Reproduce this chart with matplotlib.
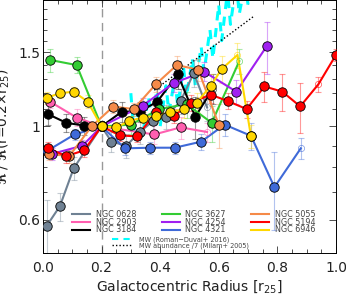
import matplotlib
matplotlib.use('Agg')
import matplotlib.pyplot as plt
from matplotlib.ticker import MultipleLocator, FormatStrFormatter

# galaxy profiles: radius [r25], normalised ratio, error, index of open (outer) point
names = ['NGC 0628', 'NGC 2903', 'NGC 3184', 'NGC 3627', 'NGC 4254',
         'NGC 4321', 'NGC 5055', 'NGC 5194', 'NGC 6946']
colors = ['#6F8193', '#FF5FB0', '#000000', '#33CC33', '#A020F0',
          '#3F6AD8', '#F58A48', '#FF0000', '#FFD700']

r0628 = [0.013, 0.058, 0.105, 0.2, 0.234, 0.285, 0.33, 0.376, 0.42, 0.47, 0.515, 0.56]
v0628 = [0.58, 0.646, 0.795, 1.0, 0.92, 0.90, 0.97, 1.03, 1.055, 1.15, 1.34, 1.11]
e0628 = [0.09, 0.05, 0.05, 0.0, 0.05, 0.06, 0.06, 0.06, 0.07, 0.08, 0.10, 0.08]

r2903 = [0.024, 0.115, 0.2, 0.38, 0.47, 0.56]
v2903 = [1.146, 1.05, 1.0, 0.957, 0.995, 0.97]
e2903 = [0.04, 0.05, 0.0, 0.05, 0.06, 0.05]

r3184 = [0.017, 0.08, 0.14, 0.2, 0.27, 0.33, 0.39, 0.46, 0.52, 0.58]
v3184 = [1.07, 1.02, 1.005, 1.0, 1.085, 1.085, 1.145, 1.33, 1.055, 1.23]
e3184 = [0.06, 0.05, 0.05, 0.0, 0.06, 0.06, 0.08, 0.1, 0.12, 0.1]

r3627 = [0.024, 0.115, 0.2, 0.30, 0.397, 0.49, 0.576, 0.67]
v3627 = [1.44, 1.40, 1.0, 1.01, 1.10, 1.13, 1.02, 1.43]
e3627 = [0.09, 0.06, 0.0, 0.05, 0.06, 0.08, 0.1, 0.1]

r4254 = [0.03, 0.135, 0.2, 0.34, 0.447, 0.55, 0.66, 0.763]
v4254 = [0.86, 0.90, 1.0, 1.12, 1.27, 1.35, 1.21, 1.55]
e4254 = [0.03, 0.03, 0.0, 0.05, 0.06, 0.07, 0.08, 0.22]

r4321 = [0.015, 0.108, 0.2, 0.28, 0.367, 0.45, 0.54, 0.62, 0.71, 0.79, 0.88]
v4321 = [0.875, 0.957, 1.0, 0.887, 0.89, 0.89, 0.92, 1.01, 0.95, 0.717, 0.887]
e4321 = [0.03, 0.03, 0.0, 0.03, 0.03, 0.03, 0.04, 0.06, 0.07, 0.15, 0.05]

r5055 = [0.02, 0.09, 0.166, 0.24, 0.31, 0.385, 0.457, 0.53, 0.60]
v5055 = [0.86, 0.85, 1.0, 1.115, 1.10, 1.26, 1.40, 1.365, 1.01]
e5055 = [0.03, 0.03, 0.0, 0.04, 0.04, 0.05, 0.07, 0.08, 0.12]

r5194 = [0.017, 0.08, 0.14, 0.2, 0.264, 0.32, 0.387, 0.447, 0.505, 0.573,
         0.63, 0.695, 0.756, 0.817, 0.878, 0.94, 1.0]
v5194 = [0.887, 0.85, 0.877, 1.0, 0.952, 0.947, 1.08, 1.06, 1.14, 1.19,
         1.15, 1.10, 1.245, 1.21, 1.116, 1.26, 1.48]
e5194 = [0.03, 0.03, 0.03, 0.0, 0.03, 0.03, 0.04, 0.04, 0.05, 0.05,
         0.05, 0.05, 0.1, 0.12, 0.15, 0.05, 0.05]

r6946 = [0.013, 0.058, 0.105, 0.153, 0.2, 0.25, 0.295, 0.34, 0.386, 0.434,
         0.48, 0.525, 0.573, 0.61, 0.664, 0.71]
v6946 = [1.17, 1.20, 1.21, 1.145, 1.0, 0.995, 1.03, 1.05, 1.06, 1.08,
         1.10, 1.14, 1.25, 1.37, 1.48, 0.947]
e6946 = [0.04, 0.03, 0.03, 0.04, 0.0, 0.03, 0.03, 0.03, 0.04, 0.04,
         0.05, 0.06, 0.08, 0.1, 0.1, 0.06]

radii = [r0628, r2903, r3184, r3627, r4254, r4321, r5055, r5194, r6946]
vals = [v0628, v2903, v3184, v3627, v4254, v4321, v5055, v5194, v6946]
errs = [e0628, e2903, e3184, e3627, e4254, e4321, e5055, e5194, e6946]
open_idx = [11, 5, 9, 7, None, 10, None, 15, 14]

# Milky Way comparisons
mw_rd_r = [0.30, 0.31, 0.33, 0.34, 0.36, 0.37, 0.39, 0.40, 0.42, 0.43, 0.45, 0.46,
           0.48, 0.49, 0.51, 0.52, 0.54, 0.55, 0.57, 0.58, 0.60, 0.61, 0.63, 0.64,
           0.66, 0.67, 0.69, 0.70]
mw_rd_v = [1.20, 0.98, 1.12, 0.95, 1.18, 1.05, 1.22, 1.00, 1.25, 1.08, 1.30, 1.12,
           1.38, 1.18, 1.45, 1.25, 1.55, 1.35, 1.70, 1.45, 1.95, 1.60, 2.10, 1.75,
           2.20, 1.85, 2.20, 1.95]
mw_ab_r = [0.38, 0.72]
mw_ab_v = [1.22, 1.83]

yticks = [0.6, 1.0, 1.5]
yticklabels = ['0.6', '1', '1.5']
yminor = [0.5, 0.7, 0.8, 0.9, 1.1, 1.2, 1.3, 1.4, 1.6, 1.7, 1.8, 1.9]

fig = plt.figure(figsize=(3.46, 3.0), dpi=100)
ax = fig.add_axes([0.124, 0.157, 0.847, 0.843])

ax.axvline(0.2, color='#999999', ls=(0, (6, 4)), lw=1.0, zorder=1)

ax.plot(mw_rd_r, mw_rd_v, color='cyan', ls=(0, (3, 2.5)), lw=2.2, zorder=2)
ax.plot(mw_ab_r, mw_ab_v, color='black', ls=(0, (1, 1.5)), lw=1.0, zorder=2)

for i in range(len(names)):
    ax.errorbar(radii[i], vals[i], yerr=errs[i], fmt='none', ecolor=colors[i],
                alpha=0.4, elinewidth=0.8, capsize=2, capthick=0.8, zorder=3)

lines = []
for i in range(len(names)):
    r, v, c = radii[i], vals[i], colors[i]
    ln, = ax.plot(r, v, color=c, lw=1.5, zorder=4 + i * 0.1, label=names[i])
    lines.append(ln)
    k = open_idx[i]
    closed = [j for j in range(len(r)) if j != k]
    ax.plot([r[j] for j in closed], [v[j] for j in closed], 'o', ms=6.8,
            mfc=c, mec='black', mew=0.6, zorder=5 + i * 0.1)
    if k is not None:
        ax.plot(r[k], v[k], 'o', ms=4.5, mfc='none', mec=c, mew=0.5,
                alpha=0.7, zorder=5)

ax.set_xlim(0, 1.0)
ax.set_yscale('log')
ax.set_ylim(0.5, 2.0)
ax.set_yticks(yticks, yticklabels)
ax.set_yticks(yminor, [], minor=True)
ax.xaxis.set_major_locator(MultipleLocator(0.2))
ax.xaxis.set_minor_locator(MultipleLocator(0.05))
ax.xaxis.set_major_formatter(FormatStrFormatter('%.1f'))
ax.tick_params(which='both', direction='in', top=True, right=True, labelsize=10,
               width=0.6, colors='#333333', labelcolor='#222222')
ax.tick_params(which='major', length=5)
ax.tick_params(which='minor', length=3)
ax.tick_params(axis='y', pad=2)
ax.tick_params(axis='x', pad=6)
for s in ax.spines.values():
    s.set_linewidth(0.7)

ax.set_xlabel(r'Galactocentric Radius [r$_{25}$]', fontsize=10, color='#222222',
              labelpad=2)
ax.set_ylabel(r'$\mathbf{\Re}$ / $\mathbf{\Re}$(r=0.2$\times$r$_{25}$)', fontsize=10,
              color='#222222')
ax.yaxis.set_label_coords(-0.107, 0.5)

leg1 = ax.legend(handles=lines, ncol=3, loc='upper left', bbox_to_anchor=(0.10, 0.17),
                 frameon=False, fontsize=5.8, labelspacing=-0.15, handlelength=2.2,
                 handletextpad=0.7, columnspacing=3.2, borderpad=0, borderaxespad=0,
                 labelcolor='#444444')
for h in leg1.get_lines():
    h.set_linewidth(1.5)
ax.add_artist(leg1)

mw1, = ax.plot([], [], color='cyan', ls=(0, (3, 2.5)), lw=1.5)
mw2, = ax.plot([], [], color='black', ls=(0, (1, 1.5)), lw=1.0)
ax.legend([mw1, mw2], ['MW (Roman\u2212Duval+ 2016)', 'MW abundance /7 (Milam+ 2005)'],
          loc='upper left', bbox_to_anchor=(0.235, 0.065), frameon=False, fontsize=4.7,
          labelspacing=-0.1, handlelength=3.0, handletextpad=1.1, borderpad=0,
          borderaxespad=0, labelcolor='#444444')

fig.savefig('out.png', dpi=100)
